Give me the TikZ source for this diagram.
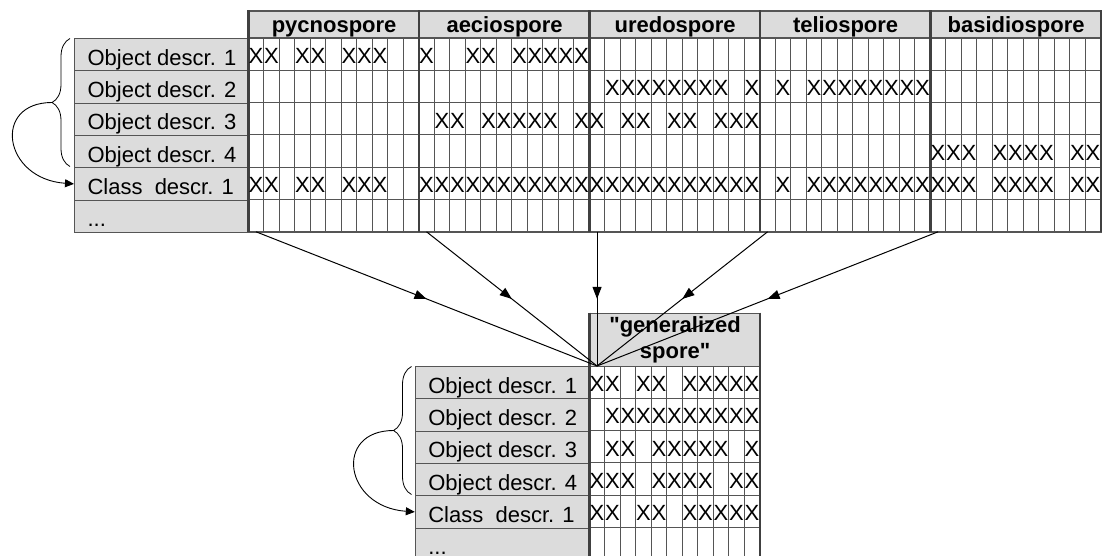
\documentclass[tikz,border=0pt]{standalone}
\usepackage{fontspec}
\setmainfont{Liberation Sans}[Ligatures=TeXOff]
\usetikzlibrary{arrows.meta,decorations.pathreplacing,decorations.markings}

\definecolor{cellgray}{HTML}{DCDCDC}
\definecolor{linegray}{HTML}{555555}
\definecolor{sepgray}{HTML}{404040}

\begin{document}
\begin{tikzpicture}[x=1pt, y=-1pt,
    font=\fontsize{22}{26.7}\selectfont,
    gridline/.style={linegray, line width=1.1pt},
    sepline/.style={sepgray, line width=2.4pt},
    labcell/.style={draw=linegray, line width=1.1pt, fill=cellgray, anchor=north west,
        minimum width=174.5pt, minimum height=32.3pt, inner xsep=13pt, inner ysep=0pt,
        text height=23pt, text depth=2pt},
    headcell/.style={draw=linegray, line width=1.1pt, fill=cellgray, anchor=north west,
        minimum width=170.5pt, inner sep=0pt, font=\fontsize{22}{26.7}\selectfont\bfseries},
    xmark/.style={anchor=base, inner sep=0pt},
    flow/.style={line width=1pt, postaction={decorate},
        decoration={markings, mark=at position 0.5 with {\arrow{Triangle[length=12pt,width=9pt]}}}},
    curly/.style={line width=0.8pt, decorate, decoration={brace, amplitude=18pt}},
    back/.style={line width=0.9pt, -{Triangle[length=9pt,width=8pt]}}
]
    % page
    \useasboundingbox (0,0) rectangle (1107,556);
    \fill[white] (0,0) rectangle (1107,556);

    % Top table: spore headers
    \foreach \name/\txt [count=\b from 0] in {pycno/pycnospore, aecio/aeciospore,
            uredo/uredospore, telio/teliospore, basid/basidiospore} {
        \node[headcell, minimum height=27.5pt, text height=18pt, text depth=3.1pt]
            (\name) at (248.3+\b*170.5, 10.5) {\txt};
        \coordinate (\name-s) at (256.05+\b*170.5, 231.8);
    }

    % Top table: row labels
    \foreach \txt [count=\r] in {Object descr. 1, Object descr. 2, Object descr. 3,
            Object descr. 4, Class\ \ descr. 1}
        \node[labcell] (t-\r) at (74, 5.7+\r*32.3) {\makebox[148.5pt][l]{\txt}};
    \node[labcell] (t-6) at (74, 199.5) {\makebox[148.5pt][l]{...}};

    % Top table: grid
    \foreach \r in {1,...,5}
        \draw[gridline] (248.3, 38+\r*32.3) -- (1100.8, 38+\r*32.3);
    \foreach \c in {1,...,54}
        \draw[gridline] (248.3+\c*15.5, 38) -- (248.3+\c*15.5, 231.8);
    \draw[gridline, line width=1.6pt] (248.3, 38) rectangle (1100.8, 231.8);
    \foreach \b in {0,...,5}
        \draw[sepline] (248.3+\b*170.5, 10.5) -- (248.3+\b*170.5, 231.8);

    % Top table: marks
    \foreach \r/\cols in {
            1/{1,2,4,5,7,8,9,12,15,16,18,19,20,21,22},
            2/{24,25,26,27,28,29,30,31,33,35,37,38,39,40,41,42,43,44},
            3/{13,14,16,17,18,19,20,22,23,25,26,28,29,31,32,33},
            4/{45,46,47,49,50,51,52,54,55},
            5/{1,2,4,5,7,8,9,12,13,14,15,16,17,18,19,20,21,22,23,24,25,26,27,28,29,30,
               31,32,33,35,37,38,39,40,41,42,43,44,45,46,47,49,50,51,52,54,55}}
        \foreach \c in \cols
            \node[xmark] (tx-\r-\c) at (240.55+\c*15.5, 31.2+\r*32.3) {X};

    % Bottom table: generalized spore
    \node[headcell, minimum height=53.5pt, align=center] (gen) at (589.3, 312.5)
        {"generalized\\spore"};
    \coordinate (gen-in) at (597.05, 366);

    \foreach \txt [count=\r] in {Object descr. 1, Object descr. 2, Object descr. 3,
            Object descr. 4, Class\ \ descr. 1}
        \node[labcell] (b-\r) at (414.8, 333.7+\r*32.3) {\makebox[148.5pt][l]{\txt}};
    \node[labcell] (b-6) at (414.8, 527.5) {\makebox[148.5pt][l]{...}};

    \foreach \r in {1,...,5}
        \draw[gridline] (589.3, 366+\r*32.3) -- (759.8, 366+\r*32.3);
    \foreach \c in {1,...,10}
        \draw[gridline] (589.3+\c*15.5, 366) -- (589.3+\c*15.5, 560);
    \draw[sepline] (589.3, 312.5) -- (589.3, 560);
    \draw[sepline] (759.8, 312.5) -- (759.8, 560);

    \foreach \r/\cols in {1/{1,2,4,5,7,8,9,10,11}, 2/{2,3,4,5,6,7,8,9,10,11},
            3/{2,3,5,6,7,8,9,11}, 4/{1,2,3,5,6,7,8,10,11}, 5/{1,2,4,5,7,8,9,10,11}}
        \foreach \c in \cols
            \node[xmark] (bx-\r-\c) at (581.55+\c*15.5, 359.2+\r*32.3) {X};

    % Braces and class arrows
    \draw[curly] (70,166.5) -- (70,38.5);
    \coordinate (t-brace) at (52,102.5);
    \draw[back] (t-brace) .. controls +(-60,0) and +(-71,-5) .. (t-5.west);

    \draw[curly] (411.5,494.5) -- (411.5,366.5);
    \coordinate (b-brace) at (393.5,430.5);
    \draw[back] (b-brace) .. controls +(-60,0) and +(-71,-5) .. (b-5.west);

    % Generalization arrows
    \foreach \name in {pycno,aecio,uredo,telio,basid}
        \draw[flow] (\name-s) -- (gen-in);
\end{tikzpicture}
\end{document}
